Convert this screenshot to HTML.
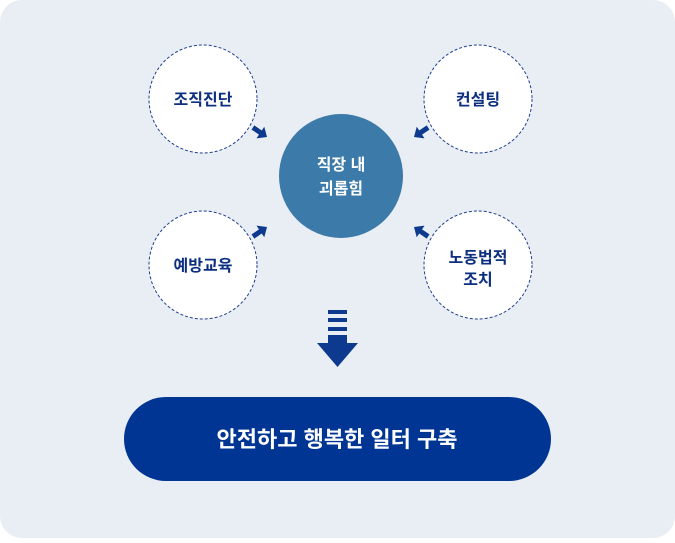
<!DOCTYPE html>
<html><head><meta charset="utf-8"><style>
body{margin:0;background:#fff;}
svg text{font-family:"Liberation Sans","Noto Sans CJK KR",sans-serif;font-weight:bold;}
</style></head><body>
<svg width="675" height="538" xmlns="http://www.w3.org/2000/svg">
<rect x="0" y="0" width="675" height="538" rx="22" fill="#e9eef4"/>
<defs><g id="ar" fill="#0d3a8f"><rect x="-17" y="-2.5" width="11" height="5"/><path d="M-8,-7 L0,0 L-8,7 z"/></g></defs>
<g fill="#fff" stroke="#1f3f8f" stroke-width="1" stroke-dasharray="3,2">
<circle cx="203" cy="99" r="54"/><circle cx="478" cy="99" r="54"/>
<circle cx="203" cy="265" r="54"/><circle cx="478" cy="265" r="54"/>
</g>
<circle cx="341" cy="176" r="62" fill="#3b7aa9"/>
<use href="#ar" transform="translate(267,137) rotate(34)"/>
<use href="#ar" transform="translate(414,137) rotate(146)"/>
<use href="#ar" transform="translate(267,227) rotate(-34)"/>
<use href="#ar" transform="translate(414,227) rotate(-146)"/>
<g fill="#0d3a8f">
<rect x="328" y="310" width="19" height="4"/><rect x="328" y="318" width="19" height="4"/><rect x="328" y="327" width="19" height="4"/>
<rect x="328" y="335" width="19" height="9"/><path d="M317,343 L358,343 L337.5,367 z"/>
</g>
<rect x="124" y="397" width="427" height="84" rx="42" fill="#003594"/>
<g fill="#0d2f80" font-size="16" text-anchor="middle">
<text x="203" y="105">조직진단</text><text x="478" y="105">컨설팅</text>
<text x="203" y="271">예방교육</text><text x="478" y="263">노동법적</text><text x="478" y="285">조치</text>
</g>
<g fill="#fff" font-size="16" text-anchor="middle">
<text x="341" y="170">직장 내</text><text x="341" y="194">괴롭힘</text>
</g>
<text x="337" y="447" fill="#fff" font-size="22" text-anchor="middle">안전하고 행복한 일터 구축</text>
</svg>
</body></html>
